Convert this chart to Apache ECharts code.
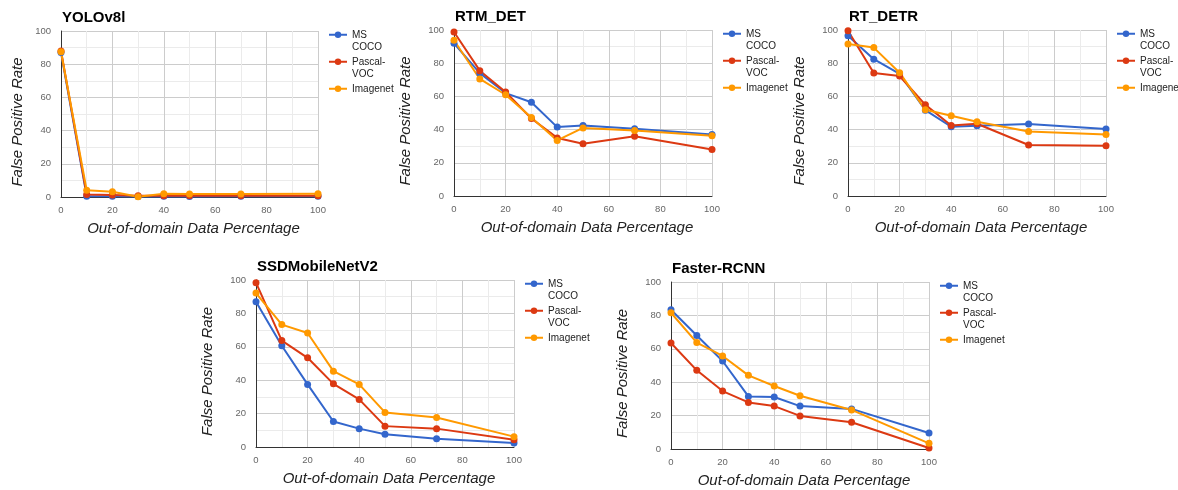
<!DOCTYPE html>
<html>
<head>
<meta charset="utf-8">
<script src="https://cdn.jsdelivr.net/npm/echarts@6/dist/echarts.min.js"></script>
<style>
    html, body { margin: 0; padding: 0; background: #fff; }
    #main { width: 1178px; height: 490px; }
</style>
</head>
<body>
<div id="main"></div>
<script>
// x positions shared by every model
const xValues = [0, 10, 20, 30, 40, 50, 70, 100];
const seriesNames = ['MS COCO', 'Pascal-VOC', 'Imagenet'];
// blank first line keeps the icon level with the first text line
const legendLabels = ['\nMS\nCOCO', '\nPascal-\nVOC', '\nImagenet\n'];
const modelTitles = ['YOLOv8l', 'RTM_DET', 'RT_DETR', 'SSDMobileNetV2', 'Faster-RCNN'];

// false positive rate per model / dataset
const yoloCoco = [87, 0.5, 0.5, 0.3, 0.5, 0.3, 0.5, 0.5];
const yoloVoc = [88, 1.5, 1.2, 0.8, 0.8, 0.8, 0.8, 0.8];
const yoloImagenet = [87.5, 4, 3.2, 0.2, 2, 1.8, 1.8, 2];

const rtmCoco = [92, 74, 62, 56.5, 41.5, 42.5, 40.5, 37];
const rtmVoc = [98.8, 75.5, 62.7, 46.7, 35, 31.5, 36, 28];
const rtmImagenet = [93.8, 70.5, 61, 47.3, 33.5, 41, 39.5, 36.3];

const detrCoco = [96.6, 82.4, 73.5, 51.7, 41.7, 42.3, 43.3, 40.3];
const detrVoc = [99.6, 74.1, 72.3, 54.9, 42.5, 43.5, 30.7, 30.3];
const detrImagenet = [91.6, 89.4, 74.3, 51.9, 48.3, 44.7, 38.9, 37.1];

const ssdCoco = [87, 60.6, 37.5, 15.3, 11, 7.6, 5, 2.4];
const ssdVoc = [98.4, 63.7, 53.4, 37.8, 28.5, 12.5, 11, 4.4];
const ssdImagenet = [92.2, 73.3, 68.3, 45.4, 37.5, 20.7, 17.7, 6.2];

const rcnnCoco = [83.4, 68, 52.7, 31.5, 31.1, 25.7, 24, 9.6];
const rcnnVoc = [63.5, 47.1, 34.7, 27.9, 25.7, 19.8, 16, 0.6];
const rcnnImagenet = [81.6, 63.7, 55.7, 44.1, 37.7, 31.9, 23.4, 3.4];

const modelData = [
    [yoloCoco, yoloVoc, yoloImagenet],
    [rtmCoco, rtmVoc, rtmImagenet],
    [detrCoco, detrVoc, detrImagenet],
    [ssdCoco, ssdVoc, ssdImagenet],
    [rcnnCoco, rcnnVoc, rcnnImagenet]
];

const colors = ['#3366cc', '#dc3912', '#ff9900'];
const font = 'Arial, "Liberation Sans", sans-serif';

// plot rectangles [left, top, width, height, y-name gap]
const boxes = [
    [61, 31, 257, 166, 36],
    [454, 30, 258, 166, 41],
    [848, 30, 258, 166, 41],
    [256, 280, 258, 167, 41],
    [671, 282, 258, 167, 41]
];

let myChart = echarts.init(document.getElementById('main'));

let grid = [], xAxis = [], yAxis = [], title = [], legend = [], series = [];

boxes.forEach((b, i) => {
    grid.push({ left: b[0], top: b[1], width: b[2], height: b[3], containLabel: false });
    title.push({
        text: modelTitles[i],
        left: b[0] - 4,
        top: b[1] - 26,
        textStyle: { fontFamily: font, fontSize: 15, fontWeight: 'bold', color: '#000' }
    });
    xAxis.push({
        type: 'value', gridIndex: i, min: 0, max: 100, interval: 20,
        name: 'Out-of-domain Data Percentage', nameLocation: 'middle', nameGap: 24,
        nameTextStyle: { fontFamily: font, fontSize: 15, fontStyle: 'italic', color: '#222', padding: [0, 0, 0, 8] },
        axisLine: { show: true, lineStyle: { color: '#333', width: 1 } },
        axisTick: { show: false },
        axisLabel: { fontFamily: font, fontSize: 9.5, color: '#666', margin: 8 },
        splitLine: { show: true, lineStyle: { color: '#ccc' } },
        minorTick: { show: false, splitNumber: 2 },
        minorSplitLine: { show: true, lineStyle: { color: '#ebebeb' } }
    });
    yAxis.push({
        type: 'value', gridIndex: i, min: 0, max: 100, interval: 20,
        name: 'False Positive Rate', nameLocation: 'middle', nameGap: b[4],
        nameTextStyle: { fontFamily: font, fontSize: 15, fontStyle: 'italic', color: '#222', padding: [0, 16, 0, 0] },
        axisLine: { show: true, lineStyle: { color: '#333', width: 1 } },
        axisTick: { show: false },
        axisLabel: { fontFamily: font, fontSize: 9.5, color: '#666', margin: 10 },
        splitLine: { show: true, lineStyle: { color: '#ccc' } },
        minorTick: { show: false, splitNumber: 2 },
        minorSplitLine: { show: true, lineStyle: { color: '#ebebeb' } }
    });
    legend.push({
        orient: 'vertical',
        left: b[0] + b[2] + 5,
        top: b[1] - 20,
        itemWidth: 18,
        itemHeight: 8,
        itemGap: -10.5,
        data: seriesNames,
        formatter: name => legendLabels[seriesNames.indexOf(name)],
        textStyle: { fontFamily: font, fontSize: 10, color: '#222', lineHeight: 12.5 }
    });
    seriesNames.forEach((name, s) => {
        series.push({
            name: name,
            type: 'line',
            xAxisIndex: i,
            yAxisIndex: i,
            data: xValues.map((x, k) => [x, modelData[i][s][k]]),
            symbol: 'circle',
            symbolSize: 7,
            lineStyle: { width: 2, color: colors[s] },
            itemStyle: { color: colors[s] },
            emphasis: { disabled: true },
            animation: false
        });
    });
});

let option = {
    backgroundColor: '#fff',
    animation: false,
    color: colors,
    title: title,
    legend: legend,
    grid: grid,
    xAxis: xAxis,
    yAxis: yAxis,
    series: series
};

myChart.setOption(option, true);
</script>
</body>
</html>
